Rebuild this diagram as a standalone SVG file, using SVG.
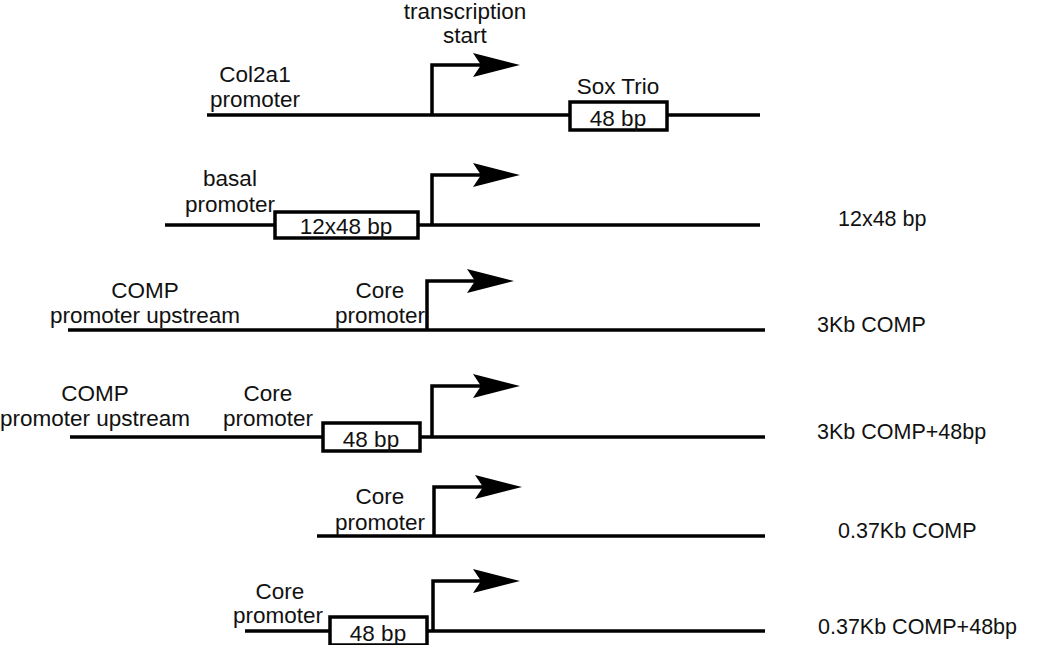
<svg xmlns="http://www.w3.org/2000/svg" width="1050" height="645" viewBox="0 0 1050 645">
<defs>
<path id="head" d="M0,0 L-47,-12 L-39,0 L-47,12 Z" fill="#000"/>
</defs>
<style>
text{font-family:"Liberation Sans",Arial,sans-serif;font-size:22.5px;fill:#111}
.lbl{text-anchor:middle}
.right{font-size:21.5px}
.dna{stroke:#000;stroke-width:3.5;fill:none}
.box{stroke:#000;stroke-width:3.5;fill:#fff}
.tss{stroke:#000;stroke-width:3.5;fill:none;stroke-linejoin:miter}
</style>
<rect width="1050" height="645" fill="#fff"/>
<g id="connectors">
<line class="dna" x1="207" y1="115" x2="760" y2="115"/>
<line class="dna" x1="165" y1="225" x2="760" y2="225"/>
<line class="dna" x1="68" y1="330" x2="765" y2="330"/>
<line class="dna" x1="70" y1="437" x2="765" y2="437"/>
<line class="dna" x1="317" y1="536" x2="765" y2="536"/>
<line class="dna" x1="245" y1="631" x2="765" y2="631"/>
</g>
<g id="row1">
<text class="lbl" x="255" y="82">Col2a1</text>
<text class="lbl" x="255" y="107">promoter</text>
<text class="lbl" x="465" y="19">transcription</text>
<text class="lbl" x="465" y="43">start</text>
<path class="tss" d="M432,115 V65 H482"/>
<use href="#head" x="520" y="65"/>
<text class="lbl" x="618" y="94">Sox Trio</text>
<rect class="box" x="570" y="102" width="97" height="28"/>
<text class="lbl" x="618" y="126">48 bp</text>
</g>
<g id="row2">
<text class="lbl" x="230" y="186">basal</text>
<text class="lbl" x="230" y="212">promoter</text>
<rect class="box" x="275" y="212" width="143" height="26"/>
<text class="lbl" x="346" y="234">12x48 bp</text>
<path class="tss" d="M432,225 V175 H482"/>
<use href="#head" x="520" y="175"/>
<text class="right" x="838" y="226">12x48 bp</text>
</g>
<g id="row3">
<text class="lbl" x="145" y="298">COMP</text>
<text class="lbl" x="145" y="323">promoter upstream</text>
<text class="lbl" x="380" y="298">Core</text>
<text class="lbl" x="380" y="323">promoter</text>
<path class="tss" d="M427,330 V281 H476"/>
<use href="#head" x="514" y="281"/>
<text class="right" x="817" y="332">3Kb COMP</text>
</g>
<g id="row4">
<text class="lbl" x="95" y="401">COMP</text>
<text class="lbl" x="95" y="426">promoter upstream</text>
<text class="lbl" x="268" y="401">Core</text>
<text class="lbl" x="268" y="426">promoter</text>
<rect class="box" x="323" y="423" width="97" height="28"/>
<text class="lbl" x="371" y="447">48 bp</text>
<path class="tss" d="M432,437 V386 H482"/>
<use href="#head" x="520" y="386"/>
<text class="right" x="817" y="439">3Kb COMP+48bp</text>
</g>
<g id="row5">
<text class="lbl" x="380" y="504">Core</text>
<text class="lbl" x="380" y="530">promoter</text>
<path class="tss" d="M434,536 V487 H484"/>
<use href="#head" x="522" y="487"/>
<text class="right" x="838" y="538">0.37Kb COMP</text>
</g>
<g id="row6">
<text class="lbl" x="280" y="599">Core</text>
<text class="lbl" x="278" y="623">promoter</text>
<rect class="box" x="330" y="617" width="97" height="28"/>
<text class="lbl" x="378" y="641">48 bp</text>
<path class="tss" d="M433,631 V581 H482"/>
<use href="#head" x="520" y="581"/>
<text class="right" x="818" y="634">0.37Kb COMP+48bp</text>
</g>
</svg>
